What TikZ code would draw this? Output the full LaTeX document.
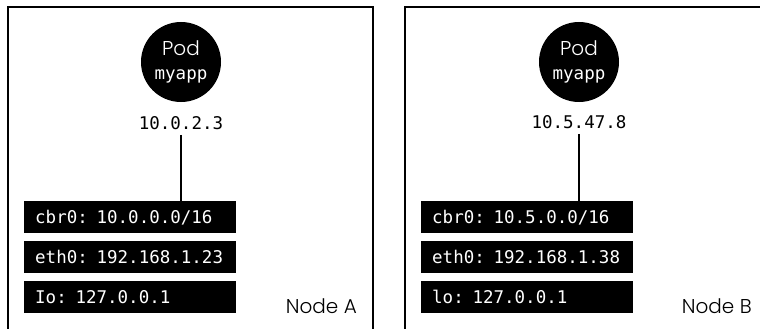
\documentclass[tikz,border=0pt]{standalone}
\usepackage{fontspec}
\setmainfont{Poppins}[UprightFont=* Light]
\setmonofont{DejaVu Sans Mono}
\begin{document}
\begin{tikzpicture}[x=1pt,y=-1pt,
  frame/.style={line width=2pt, line cap=rect},
  podcircle/.style={circle, fill=black, minimum size=80pt, inner sep=0pt, text=white, align=center, font=\fontsize{17.5}{26}\selectfont},
  iplabel/.style={font=\fontsize{17.5}{20}\ttfamily, inner sep=0pt},
  ifbox/.style={fill=black, text=white, anchor=north west, text width=190pt, align=left, inner xsep=11pt, inner ysep=0pt, minimum height=32pt, font=\fontsize{17.5}{20}\ttfamily},
  nodelabel/.style={font=\fontsize{20}{24}\selectfont, inner sep=0pt, anchor=base east},
  wire/.style={line width=2pt}]
\useasboundingbox (0,0) rectangle (760,329);
% frames
\draw[frame] (8,340) -- (8,7) -- (373,7) -- (373,340);
\draw[frame] (405,340) -- (405,7) -- (770,7);
% node A
\node[podcircle] (podA) at (181,62) {\fontsize{20}{24}\rmfamily Pod\\[-2pt]\ttfamily myapp};
\node[iplabel] (ipA) at (181,123) {10.0.2.3};
\node[ifbox] (cbrA) at (24,201) {cbr0: 10.0.0.0/16};
\node[ifbox] (ethA) at (24,241) {eth0: 192.168.1.23};
\node[ifbox] (loA) at (24,281) {Io: 127.0.0.1};
\node[nodelabel] (labA) at (357,313) {Node A};
\draw[wire] ([yshift=-5pt]ipA.south) -- (ipA.south |- cbrA.north);
% node B
\node[podcircle] (podB) at (579,62) {\fontsize{20}{24}\rmfamily Pod\\[-2pt]\ttfamily myapp};
\node[iplabel] (ipB) at (579,122) {10.5.47.8};
\node[ifbox] (cbrB) at (421,201) {cbr0: 10.5.0.0/16};
\node[ifbox] (ethB) at (421,241) {eth0: 192.168.1.38};
\node[ifbox] (loB) at (421,281) {lo: 127.0.0.1};
\node[nodelabel] (labB) at (752,313) {Node B};
\draw[wire] ([yshift=-5pt]ipB.south) -- (ipB.south |- cbrB.north);
\end{tikzpicture}
\end{document}
